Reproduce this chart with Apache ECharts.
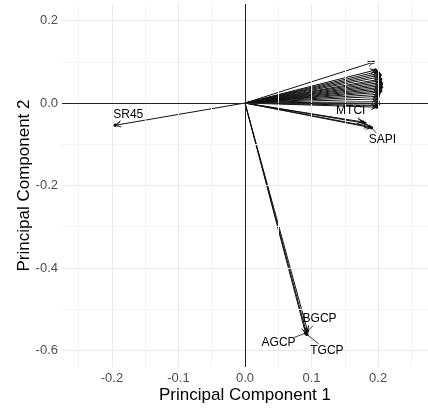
<!DOCTYPE html>
<html>
<head>
<meta charset="utf-8">
<script src="https://cdn.jsdelivr.net/npm/echarts@6/dist/echarts.min.js"></script>
<style>
  html, body { margin: 0; padding: 0; background: #fff; }
  #main { width: 428px; height: 409px; }
</style>
</head>
<body>
<div id="main"></div>
<script>
// loadings (PC1, PC2); '' = arrow without a label
const varNames = ['', '', '', '', '', '', '', '', '', '', '', '', '', '', '', '', '', '', '', '', '', '',
  'MTCI', '', 'SAPI', '', 'SR45', 'AGCP', 'BGCP', 'TGCP'];
const pc1 = [0.193, 0.196, 0.199, 0.201, 0.203, 0.202, 0.204, 0.203, 0.204, 0.205, 0.204, 0.205, 0.203, 0.204, 0.202, 0.201, 0.200, 0.199, 0.200, 0.201, 0.199, 0.198,
  0.177, 0.180, 0.190, 0.187, -0.195, 0.091, 0.094, 0.093];
const pc2 = [0.099, 0.080, 0.076, 0.072, 0.068, 0.063, 0.058, 0.054, 0.050, 0.046, 0.042, 0.038, 0.034, 0.030, 0.026, 0.021, 0.016, 0.010, 0.003, -0.002, -0.006, -0.010,
  -0.046, -0.049, -0.060, -0.057, -0.054, -0.558, -0.553, -0.561];

const xTicks = [-0.2, -0.1, 0.0, 0.1, 0.2];
const yTicks = [-0.6, -0.4, -0.2, 0.0, 0.2];
const xMinor = [-0.25, -0.15, -0.05, 0.05, 0.15, 0.25];
const yMinor = [-0.5, -0.3, -0.1, 0.1];

// pixel nudges of the repelled labels
const labelNudge = {
  SR45: [13, -11], MTCI: [-12, -11], SAPI: [11, 12],
  BGCP: [12, -12], AGCP: [-27, 10], TGCP: [20, 16]
};

const font = '"Liberation Sans", Arial, sans-serif';
const ink = '#111';

let chart = echarts.init(document.getElementById('main'));

let arrowData = pc1.map((v, i) => [v, pc2[i]]);
let labelData = [];
varNames.forEach((n, i) => { if (n) labelData.push([pc1[i], pc2[i], i]); });

function gridLines(vals, axis, color) {
  return vals.map(v => ({ [axis]: v, lineStyle: { color: color, width: 1, type: 'solid' } }));
}

chart.setOption({
  animation: false,
  grid: { left: 62, right: 0, top: 4, bottom: 42 },
  xAxis: {
    type: 'value', min: -0.275, max: 0.275,
    name: 'Principal Component 1', nameLocation: 'middle', nameGap: 20, nameMoveOverlap: false,
    nameTextStyle: { fontFamily: font, fontSize: 17, color: '#000' },
    axisLine: { show: false }, axisTick: { show: false }, splitLine: { show: false },
    axisLabel: {
      customValues: xTicks, margin: 5, color: '#4d4d4d', fontFamily: font, fontSize: 13,
      formatter: v => v.toFixed(1)
    }
  },
  yAxis: {
    type: 'value', min: -0.64, max: 0.24,
    name: 'Principal Component 2', nameLocation: 'middle', nameGap: 29, nameMoveOverlap: false,
    nameTextStyle: { fontFamily: font, fontSize: 17, color: '#000' },
    axisLine: { show: false }, axisTick: { show: false }, splitLine: { show: false },
    axisLabel: {
      customValues: yTicks, margin: 4, color: '#4d4d4d', fontFamily: font, fontSize: 13,
      formatter: v => v.toFixed(1)
    }
  },
  series: [
    {
      type: 'line', data: [], silent: true,
      markLine: {
        silent: true, symbol: 'none', label: { show: false },
        data: [].concat(
          gridLines(xMinor, 'xAxis', '#f3f3f3'),
          gridLines(yMinor, 'yAxis', '#f3f3f3'),
          gridLines(xTicks, 'xAxis', '#e9e9e9'),
          gridLines(yTicks, 'yAxis', '#e9e9e9')
        )
      }
    },
    {
      type: 'line', data: [], silent: true, z: 3,
      markLine: {
        silent: true, symbol: 'none', label: { show: false },
        data: [
          { xAxis: 0, lineStyle: { color: '#222', width: 1, type: 'solid' } },
          { yAxis: 0, lineStyle: { color: '#222', width: 1, type: 'solid' } }
        ]
      }
    },
    {
      type: 'custom', z: 4, silent: true,
      data: arrowData,
      renderItem: function (params, api) {
        let o = api.coord([0, 0]);
        let p = api.coord([api.value(0), api.value(1)]);
        let ang = Math.atan2(p[1] - o[1], p[0] - o[0]);
        let L = 6, a = Math.PI / 7;
        let h1 = [p[0] - L * Math.cos(ang - a), p[1] - L * Math.sin(ang - a)];
        let h2 = [p[0] - L * Math.cos(ang + a), p[1] - L * Math.sin(ang + a)];
        return {
          type: 'group',
          children: [
            { type: 'line', shape: { x1: o[0], y1: o[1], x2: p[0], y2: p[1] }, style: { stroke: ink, lineWidth: 1 } },
            { type: 'polyline', shape: { points: [h1, p, h2] }, style: { stroke: ink, fill: null, lineWidth: 1 } },
            { type: 'circle', shape: { cx: p[0], cy: p[1], r: 1.7 }, style: { fill: ink } }
          ]
        };
      }
    },
    {
      type: 'custom', z: 5, silent: true,
      data: labelData,
      renderItem: function (params, api) {
        let name = varNames[api.value(2)];
        let p = api.coord([api.value(0), api.value(1)]);
        let nudge = labelNudge[name] || [0, 0];
        let cx = p[0] + nudge[0], cy = p[1] + nudge[1];
        let hw = name.length * 3.6 + 1, hh = 6.5;
        let dx = cx - p[0], dy = cy - p[1];
        let s = Math.max(Math.abs(dx) / hw, Math.abs(dy) / hh);
        let children = [];
        if (s > 1.2) {
          let ex = cx - dx / s, ey = cy - dy / s;
          children.push({ type: 'line', shape: { x1: p[0], y1: p[1], x2: ex, y2: ey }, style: { stroke: ink, lineWidth: 0.8 } });
        }
        children.push({
          type: 'text', x: cx, y: cy,
          style: { text: name, align: 'center', verticalAlign: 'middle', font: '12px ' + font, fill: '#000' }
        });
        return { type: 'group', children: children };
      }
    }
  ]
});
</script>
</body>
</html>
